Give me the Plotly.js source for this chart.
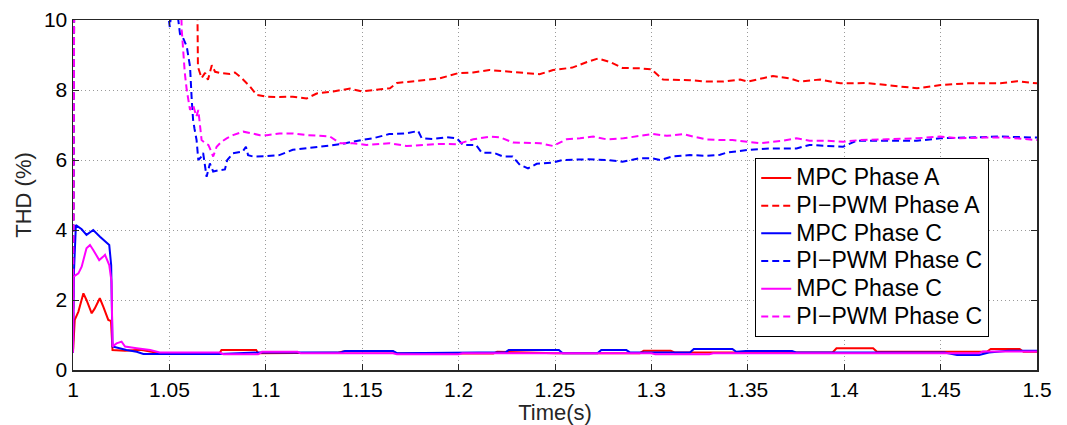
<!DOCTYPE html>
<html>
<head>
<meta charset="utf-8">
<script src="https://cdn.plot.ly/plotly-3.0.1.min.js"></script>
<style>html,body{margin:0;padding:0;background:#fff;}#chart{width:1067px;height:425px;}</style>
</head>
<body>
<div id="chart"></div>
<script>
// ---- data ----
const xTickVals = [1, 1.05, 1.1, 1.15, 1.2, 1.25, 1.3, 1.35, 1.4, 1.45, 1.5];
const xTickText = ["1", "1.05", "1.1", "1.15", "1.2", "1.25", "1.3", "1.35", "1.4", "1.45", "1.5"];
const yTickVals = [0, 2, 4, 6, 8, 10];

// MPC Phase A (red solid)
const mpcA_t = [1.0, 1.0009, 1.0028, 1.0054, 1.007, 1.0097, 1.0113, 1.0139, 1.0157, 1.0183, 1.0197, 1.0205, 1.027, 1.035, 1.045, 1.076, 1.077, 1.095, 1.096, 1.137, 1.14, 1.166, 1.168, 1.218, 1.22, 1.242, 1.25, 1.294, 1.296, 1.31, 1.312, 1.394, 1.396, 1.415, 1.417, 1.474, 1.476, 1.491, 1.493, 1.5];
const mpcA_y = [0.5, 1.43, 1.67, 2.19, 2.0, 1.62, 1.76, 2.05, 1.81, 1.43, 1.4, 0.57, 0.55, 0.58, 0.48, 0.48, 0.57, 0.57, 0.48, 0.49, 0.53, 0.53, 0.47, 0.47, 0.52, 0.5, 0.48, 0.48, 0.55, 0.55, 0.5, 0.5, 0.62, 0.62, 0.52, 0.52, 0.6, 0.6, 0.52, 0.52];

// PI-PWM Phase A (red dashed)
const pwmA_t = [1.0, 1.0008, 1.03, 1.06, 1.0645, 1.0648, 1.0667, 1.0685, 1.070, 1.072, 1.0737, 1.076, 1.0814, 1.084, 1.0875, 1.0918, 1.0953, 1.1005, 1.107, 1.114, 1.1212, 1.1264, 1.135, 1.1437, 1.1497, 1.1556, 1.1644, 1.168, 1.18, 1.19, 1.1997, 1.2075, 1.216, 1.228, 1.242, 1.249, 1.259, 1.2666, 1.2723, 1.2785, 1.285, 1.294, 1.3, 1.306, 1.311, 1.32, 1.329, 1.337, 1.346, 1.35, 1.363, 1.372, 1.377, 1.3875, 1.398, 1.412, 1.422, 1.4378, 1.45, 1.464, 1.481, 1.4896, 1.5];
const pwmA_y = [0.5, 14, 13, 11, 10.5, 8.66, 8.34, 8.49, 8.29, 8.71, 8.52, 8.49, 8.46, 8.5, 8.34, 8.1, 7.86, 7.81, 7.8, 7.81, 7.76, 7.9, 7.96, 8.04, 7.96, 8.0, 8.05, 8.2, 8.26, 8.33, 8.48, 8.5, 8.57, 8.52, 8.45, 8.57, 8.64, 8.8, 8.9, 8.8, 8.63, 8.62, 8.59, 8.3, 8.3, 8.28, 8.24, 8.24, 8.3, 8.24, 8.4, 8.33, 8.24, 8.3, 8.19, 8.2, 8.14, 8.05, 8.14, 8.19, 8.19, 8.25, 8.19];

// MPC Phase C (blue solid)
const mpcC1_t = [1.0, 1.0005, 1.0015, 1.0045, 1.007, 1.0105, 1.014, 1.0166, 1.0188, 1.0198, 1.0205, 1.0277, 1.033, 1.0365, 1.076, 1.096, 1.139, 1.141, 1.166, 1.168, 1.2, 1.2245, 1.226, 1.252, 1.254, 1.272, 1.274, 1.287, 1.289, 1.32, 1.322, 1.342, 1.344, 1.349, 1.373, 1.375, 1.452, 1.4585, 1.47, 1.475, 1.485, 1.5];
const mpcC1_y = [0.5, 2.8, 4.14, 4.02, 3.86, 4.0, 3.81, 3.67, 3.57, 3.0, 0.67, 0.57, 0.52, 0.46, 0.46, 0.5, 0.5, 0.54, 0.54, 0.48, 0.5, 0.51, 0.57, 0.57, 0.48, 0.48, 0.57, 0.57, 0.5, 0.5, 0.6, 0.6, 0.52, 0.54, 0.54, 0.5, 0.5, 0.43, 0.43, 0.5, 0.55, 0.55];

// PI-PWM Phase C (blue dashed)
const pwmC1_t = [1.0, 1.0008, 1.04, 1.0495, 1.0502, 1.0508, 1.052, 1.0545, 1.0555, 1.057, 1.059, 1.0607, 1.0616, 1.0623, 1.063, 1.0641, 1.065, 1.0667, 1.0675, 1.0693, 1.071, 1.0727, 1.076, 1.0788, 1.080, 1.083, 1.088, 1.0897, 1.0908, 1.0934, 1.1005, 1.107, 1.114, 1.123, 1.1316, 1.1385, 1.1497, 1.1556, 1.164, 1.173, 1.179, 1.1809, 1.1868, 1.194, 1.199, 1.2023, 1.209, 1.212, 1.218, 1.223, 1.228, 1.2318, 1.236, 1.2405, 1.249, 1.254, 1.2664, 1.277, 1.285, 1.294, 1.3, 1.3045, 1.311, 1.32, 1.3287, 1.3356, 1.339, 1.35, 1.3615, 1.3753, 1.382, 1.3994, 1.4065, 1.42, 1.4377, 1.4497, 1.4635, 1.4808, 1.5];
const pwmC1_y = [0.5, 14, 12, 10.1, 9.8, 10.1, 10.3, 10.05, 9.6, 9.5, 9.24, 8.67, 7.71, 7.14, 6.9, 6.57, 6.0, 6.1, 6.2, 5.52, 5.9, 5.67, 5.71, 5.73, 6.0, 6.19, 6.24, 6.38, 6.14, 6.1, 6.11, 6.14, 6.29, 6.35, 6.4, 6.45, 6.57, 6.62, 6.74, 6.76, 6.83, 6.62, 6.6, 6.65, 6.62, 6.43, 6.43, 6.21, 6.21, 6.1, 6.1, 5.86, 5.76, 5.89, 5.93, 6.0, 6.02, 6.0, 5.95, 6.05, 6.05, 6.0, 6.1, 6.14, 6.12, 6.15, 6.21, 6.29, 6.33, 6.33, 6.43, 6.38, 6.55, 6.55, 6.55, 6.62, 6.64, 6.67, 6.64];

// MPC Phase C (magenta solid)
const mpcC2_t = [1.0, 1.0003, 1.0028, 1.0045, 1.007, 1.0088, 1.0105, 1.0136, 1.0157, 1.0166, 1.0188, 1.02, 1.0205, 1.0226, 1.0252, 1.027, 1.033, 1.04, 1.045, 1.076, 1.078, 1.096, 1.098, 1.1165, 1.118, 1.166, 1.168, 1.2, 1.202, 1.3, 1.302, 1.33, 1.332, 1.47, 1.472, 1.5];
const mpcC2_y = [0.5, 2.67, 2.76, 2.95, 3.48, 3.57, 3.43, 3.14, 3.24, 3.29, 3.0, 2.52, 0.67, 0.76, 0.81, 0.67, 0.62, 0.57, 0.5, 0.5, 0.45, 0.45, 0.52, 0.52, 0.48, 0.48, 0.45, 0.45, 0.48, 0.48, 0.45, 0.45, 0.48, 0.48, 0.53, 0.53];

// PI-PWM Phase C (magenta dashed)
const pwmC2_t = [1.0, 1.0008, 1.05, 1.0562, 1.0564, 1.057, 1.058, 1.059, 1.0607, 1.0623, 1.064, 1.065, 1.0659, 1.0667, 1.0685, 1.0702, 1.071, 1.0727, 1.0745, 1.077, 1.0797, 1.083, 1.0883, 1.0935, 1.097, 1.1005, 1.107, 1.1143, 1.1212, 1.128, 1.1333, 1.1385, 1.1452, 1.1523, 1.164, 1.173, 1.1815, 1.1903, 1.199, 1.2076, 1.2163, 1.2215, 1.2282, 1.2353, 1.2422, 1.249, 1.256, 1.263, 1.2699, 1.2768, 1.2855, 1.2941, 1.3009, 1.308, 1.3166, 1.3216, 1.3287, 1.3356, 1.342, 1.35, 1.356, 1.368, 1.3753, 1.382, 1.391, 1.3994, 1.408, 1.422, 1.4377, 1.4497, 1.46, 1.472, 1.4843, 1.5];
const pwmC2_y = [0.5, 14, 12, 10.1, 9.71, 9.14, 8.48, 8.0, 7.43, 7.57, 7.24, 7.43, 6.95, 6.57, 6.48, 6.43, 6.33, 6.1, 6.38, 6.52, 6.62, 6.71, 6.81, 6.76, 6.71, 6.71, 6.76, 6.76, 6.71, 6.69, 6.67, 6.48, 6.48, 6.43, 6.48, 6.4, 6.43, 6.46, 6.45, 6.59, 6.67, 6.65, 6.5, 6.48, 6.48, 6.4, 6.59, 6.62, 6.67, 6.59, 6.62, 6.69, 6.74, 6.69, 6.74, 6.67, 6.59, 6.57, 6.57, 6.52, 6.48, 6.55, 6.62, 6.55, 6.55, 6.52, 6.57, 6.59, 6.62, 6.67, 6.62, 6.64, 6.64, 6.57];

const names = ["MPC Phase A", "PI\u2212PWM Phase A", "MPC Phase C", "PI\u2212PWM Phase C", "MPC Phase C", "PI\u2212PWM Phase C"];

// ---- traces ----
const dashPat = "7px,4px";
function tr(x, y, name, color, dashed) {
  return {
    x: x, y: y, name: '<span style="font-size:23px">' + name + '</span>',
    type: "scatter", mode: "lines",
    line: {color: color, width: 2, dash: dashed ? dashPat : "solid"},
    hoverinfo: "skip"
  };
}
const data = [
  tr(mpcA_t, mpcA_y, names[0], "#ff0000", false),
  tr(pwmA_t, pwmA_y, names[1], "#ff0000", true),
  tr(mpcC1_t, mpcC1_y, names[2], "#0000ff", false),
  tr(pwmC1_t, pwmC1_y, names[3], "#0000ff", true),
  tr(mpcC2_t, mpcC2_y, names[4], "#ff00ff", false),
  tr(pwmC2_t, pwmC2_y, names[5], "#ff00ff", true)
];

const FONT = "Liberation Sans, Arial, Helvetica, sans-serif";
const axisCommon = {
  showline: true, linecolor: "#262626", linewidth: 1.5, mirror: "ticks",
  ticks: "inside", ticklen: 6, tickwidth: 1, tickcolor: "#262626",
  showgrid: true, gridcolor: "#9a9a9a", griddash: "1px,3px", gridwidth: 1,
  zeroline: false, tickfont: {family: FONT, size: 21, color: "#000"}
};

const layout = {
  width: 1067, height: 425,
  margin: {l: 73, r: 30, t: 20, b: 55},
  paper_bgcolor: "#fff", plot_bgcolor: "#fff",
  font: {family: FONT, color: "#000"},
  showlegend: true,
  xaxis: Object.assign({}, axisCommon, {
    range: [1, 1.5], tickmode: "array", tickvals: xTickVals, ticktext: xTickText,
    title: {text: "Time(s)", font: {family: FONT, size: 22, color: "#262626"}, standoff: 2}
  }),
  yaxis: Object.assign({}, axisCommon, {
    range: [0, 10], tickmode: "array", tickvals: yTickVals,
    title: {text: "THD (%)", font: {family: FONT, size: 22, color: "#262626"}, standoff: 6}
  }),
  legend: {
    x: 0.7075, y: 0.606, xanchor: "left", yanchor: "top",
    bgcolor: "#fff", bordercolor: "#000", borderwidth: 1.2,
    font: {family: FONT, size: 19, color: "#000"}, itemwidth: 30, tracegroupgap: 0
  }
};

Plotly.newPlot("chart", data, layout, {staticPlot: true, displayModeBar: false});
</script>
</body>
</html>
